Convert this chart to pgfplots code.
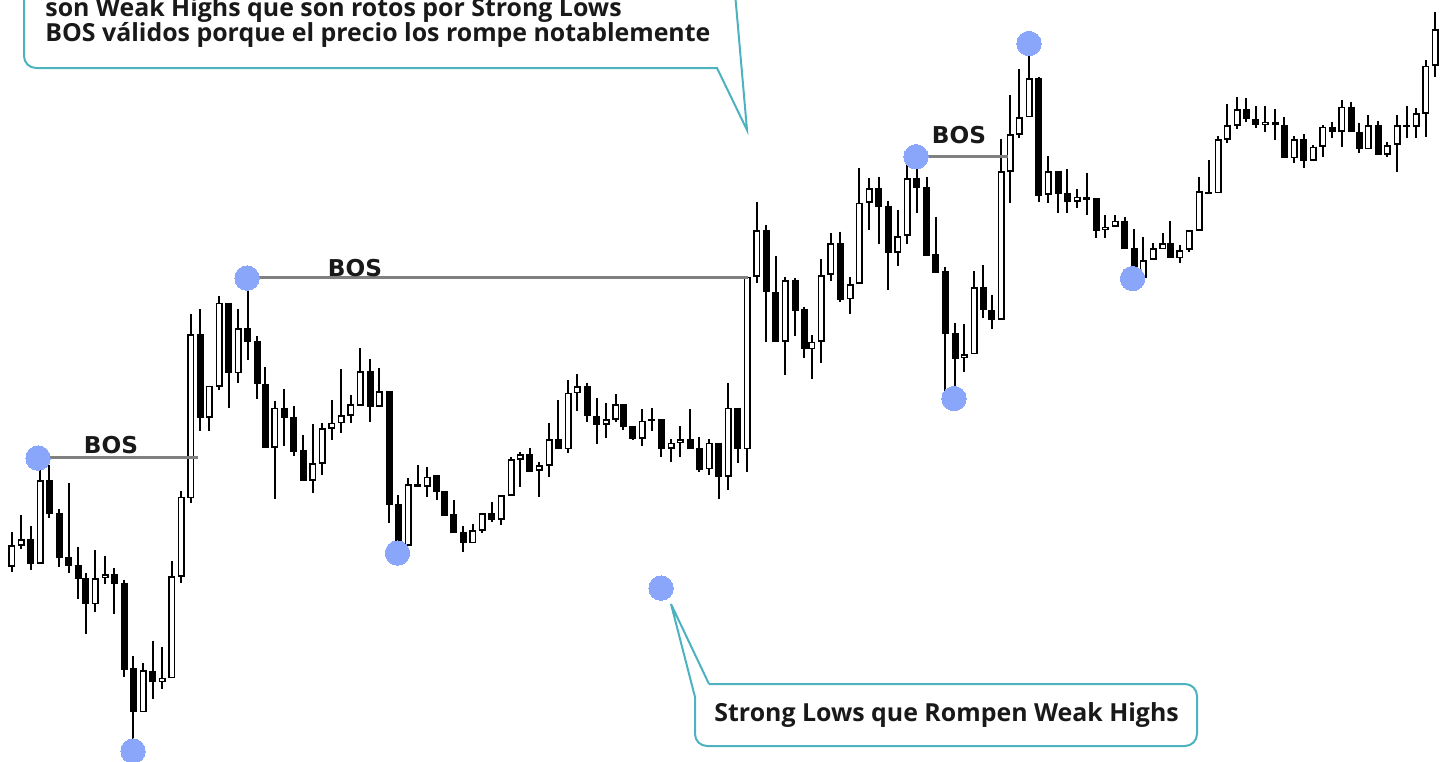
\documentclass[border=0pt]{standalone}
\usepackage{pgfplots}
\pgfplotsset{compat=1.18}
\usepackage{pgfplotstable}
\usepackage{fontspec}
\setmainfont{Open Sans}
\newfontfamily\labfont{DejaVu Sans}

\definecolor{callout}{RGB}{77,178,192}
\definecolor{dot}{RGB}{138,166,250}
\definecolor{bosgray}{RGB}{128,128,128}
\definecolor{ink}{RGB}{25,25,25}

% pixel-position candles: x, body top, body bottom, high (wick top), low (wick bottom)
\pgfplotstableread{
x bt bb h l
11.7 545 566.7 531.7 571.7
21 539.3 545.7 515 549.3
40 480 564 457 564
95.3 578.3 604.3 550 612.3
105 574.3 577.7 555.7 584.3
143.3 670 712.3 662.7 712.3
162.3 677.7 682.3 646.7 689.3
171.7 576 678.3 561 678.3
181 496.7 576.7 490.7 582.7
190.7 334 498.3 314.3 502.7
209.3 385.7 417.7 385.7 431
219 302.7 386.7 296 390
238.3 328.3 373.3 309.3 382.7
274.7 407.7 447.7 400.7 499.3
312.7 463.3 480.7 424.3 493.3
322.3 428.3 464 423.3 475
331.7 422.7 429 400 440
341.3 415 423.3 369 432.7
350.7 404 416 395 423.3
360.3 371 405.7 348.3 405.7
379.3 391 406.7 368.3 406.7
408 484 546 478.3 546
427 476.7 486.7 466.7 497.3
472.7 530 543.3 524 543.3
482.3 513.3 531 513.3 532.7
501.3 495 520 495 525
511 459 495.7 456.7 495.7
520.3 454 460 451.7 486.7
539.3 465 471 461.7 497.3
549 439.3 466 422.7 476.7
568 392.7 449.3 380 452.7
577.3 386 393.3 374.3 410.7
606 419.3 425 403.3 438.3
615.7 404.3 420 394.3 421.7
642.3 420.7 439 409.3 446
671 442.7 449 439.3 461.7
680.3 439 443.3 426 456.7
709 442.7 469.3 439 475
728.3 407.7 476.7 383.3 490
747.3 276.7 449.3 276.7 471.7
756.7 230 276.7 201.7 282.7
785.3 280 341.7 276.7 375
811.7 341.7 349.3 335 379.3
821 275 341.7 259.3 363.3
830.7 243.3 275 233.3 280.7
850 284 299.3 276.7 314
859.3 202.7 284 168.3 284
869 188.3 202.7 178.3 230
897.7 236 252.7 210 266
907.3 178.3 236 165 244
964.3 354 358.3 324 371.7
974 287.3 354.3 270.7 354.3
1001 171 320 139.3 320
1010 134 171.7 95 203.3
1019.3 117.3 135 69 138.3
1029 78.3 117.3 43.3 117.3
1048.3 171 195 156 203.3
1077 196.7 201.7 189.3 208.3
1105.3 226.7 230 215 238.3
1115 220.7 226.7 215 227.3
1143.3 260 278.3 237.3 278.3
1153 248.3 260 243.3 260
1162.7 243.3 249.3 233.3 249.3
1179.7 250 258.3 245 263.3
1189.3 230 250 230 251.7
1199 191 230.7 176.7 230.7
1218 139.3 193.3 136 193.3
1227.3 125 140 104 142.7
1237 109.3 125.7 96.7 129
1265.3 121.7 125 106 131.7
1294 139.3 158.3 136 162.7
1313.3 146.7 160.7 145 160.7
1322.7 126.7 146.7 125 156.7
1341.7 106.7 131.7 100 147.3
1368.3 125 149.3 115 149.3
1387.3 145 155 141.7 156.7
1397 125 145 115 171.7
1416 113.3 126.7 108.3 138.3
1425.7 65.7 114 60 136.7
1435.3 29 65.7 11.7 77.3
}\bull

\pgfplotstableread{
x bt bb h l
30.7 539.3 564 526 570
49.3 480 514.3 465 518.3
59.3 512.7 558.3 509.3 567.3
68.7 557.3 566 483.3 573.3
78 565 579 546.7 599.3
85.7 577.7 604.3 572.7 634.3
114.3 574 584.3 568.3 614.3
124 583.3 670 580 676.7
133.3 668.3 712.3 656 751.7
152.7 670.7 682.3 640.7 699
200 334 417.7 309.3 431
228.7 302.7 373.3 302.7 408.3
247.7 328.3 341.7 276.7 360
257 340.7 384.3 336 399.3
265.3 384 447.7 367.3 447.7
284 407.7 417.7 389.3 445.7
293.7 416.7 451.7 406 455.7
303 450 480.7 435 480.7
370 371 406.7 359.3 421.7
389 391 505 391 523.3
398.3 504 546 495 553.3
417.7 484 486.5 465 486.7
436.7 475 491.7 475 500
444.3 491 515.7 491 515.7
453.7 514.3 532.7 500 532.7
463.3 531.7 543.3 526 551.7
491.7 513.3 520 502.3 521.7
529.7 454 471.7 448.3 471.7
558.3 439.3 449.3 400 449.3
587 386 416 382.7 421.7
596.7 416 425 398.3 444
623.3 404.3 426.7 404.3 430
632.7 426 439 426 440
651.7 419 421 407.7 430.7
661.3 419 449 419 456.7
690 439 449 409.3 449
699.3 448.3 470 437.3 471.7
718.7 442.7 476.7 442.7 499.3
737.7 407.7 449.3 407.7 462.7
766 230 291.7 225 341.7
775.7 291.7 341.7 256 341.7
795 280 310.7 277.7 336
804 309.3 349.3 306.7 358.3
840.3 243.3 300 231.7 301.7
878.7 188.3 206.7 176.7 244
888 206 252.7 200.7 290
916.7 178.3 188.3 155 212.7
926.7 187.3 256 176.7 256
935.7 254 272.7 216.7 272.7
945.3 270.7 334.3 267.3 391.7
955 333.3 359.3 322.7 397.3
983.3 287.3 310 265 318.3
991.7 310 320 295 329.3
1038.7 78.3 196 76.7 201.7
1058 171 194 171 212.7
1067.3 192.7 201.7 169.3 212.7
1086.7 196.7 200 172.7 215
1096 198.3 230.7 198.3 238.3
1124.7 220.7 249.3 216.7 249.3
1134 248.3 278.3 229.3 278.3
1170.3 243.3 258.3 220.7 258.3
1208.7 191.5 193.5 160 193.3
1246.3 109.3 119.3 98.3 121.7
1255.7 119.3 125 106 128.3
1275 121.7 125 109.3 140
1284.3 125 158.3 117.3 158.3
1303.7 139.3 160.7 134 168.3
1332 126.7 131.7 121.7 138.3
1351 106.7 131.7 101.7 131.7
1359 131.7 149.3 122.7 152.7
1378 125 155 120.7 155
1406.7 125 127 106 138.3
}\bear

\pgfplotsset{
  wick/.style={draw=none, mark=none,
    error bars/.cd, y dir=plus, y explicit,
    error mark=none,
    error bar style={draw=black, solid, line width=0.85pt}},
  body/.style={draw=none, mark=none,
    error bars/.cd, y dir=plus, y explicit,
    error mark=none,
    error bar style={draw=black, solid, line width=3.5pt}},
  hollow/.style={draw=none, mark=none,
    error bars/.cd, y dir=plus, y explicit,
    error mark=none,
    error bar style={draw=white, solid, line width=1.9pt}},
}

\begin{document}
\begin{tikzpicture}
\begin{axis}[
  scale only axis, width=722.5pt, height=380.5pt,
  xmin=0, xmax=1445, ymin=0, ymax=761, y dir=reverse,
  hide axis, clip=false,
]
% swing points
\addplot[color=dot, only marks, mark=*, mark size=6.1pt,
  mark options={draw=dot, fill=dot, line width=0pt}] coordinates {
  (38,458) (133,751) (247,278) (397.5,553) (661,588)
  (954,398.5) (916,156.7) (1029,43.5) (1132.5,278.5)};

% candles
\addplot[wick] table[x=x, y=h, y error plus expr=\thisrow{l}-\thisrow{h}] {\bull};
\addplot[wick] table[x=x, y=h, y error plus expr=\thisrow{l}-\thisrow{h}] {\bear};
\addplot[body] table[x=x, y=bt, y error plus expr=\thisrow{bb}-\thisrow{bt}] {\bull};
\addplot[body] table[x=x, y=bt, y error plus expr=\thisrow{bb}-\thisrow{bt}] {\bear};
\addplot[hollow] table[x=x, y expr=\thisrow{bt}+1.6,
  y error plus expr={max(\thisrow{bb}-\thisrow{bt}-3.2,0)}] {\bull};

% BOS lines
\addplot[bosgray, line width=1.5pt] coordinates {(38,457) (198,457)};
\addplot[bosgray, line width=1.5pt] coordinates {(247,277) (748,277)};
\addplot[bosgray, line width=1.5pt] coordinates {(916,156) (1008,156)};

\node[font=\labfont\bfseries\fontsize{11.6pt}{13pt}\selectfont, text=ink, inner sep=0pt] at (axis cs:111,445.5) {BOS};
\node[font=\labfont\bfseries\fontsize{11.6pt}{13pt}\selectfont, text=ink, inner sep=0pt] at (axis cs:355,268) {BOS};
\node[font=\labfont\bfseries\fontsize{11.6pt}{13pt}\selectfont, text=ink, inner sep=0pt] at (axis cs:959,135) {BOS};

% callouts
\draw[callout, line width=1pt] (axis cs:733,-30) -- (axis cs:747,130) -- (axis cs:717,68)
  [rounded corners=6pt] -- (axis cs:24,68) -- (axis cs:24,-30);
\draw[callout, line width=1pt] (axis cs:709,684) -- (axis cs:671,604) -- (axis cs:695,697)
  [rounded corners=6pt] -- (axis cs:695,746) -- (axis cs:1197,746) -- (axis cs:1197,684) -- (axis cs:709,684);

\node[anchor=base west, inner sep=0pt, text=ink, font=\bfseries\fontsize{12.45pt}{14pt}\selectfont] at (axis cs:45,16.7) {son Weak Highs que son rotos por Strong Lows};
\node[anchor=base west, inner sep=0pt, text=ink, font=\bfseries\fontsize{12.45pt}{14pt}\selectfont] at (axis cs:45,41.7) {BOS válidos porque el precio los rompe notablemente};
\node[anchor=base west, inner sep=0pt, text=ink, font=\bfseries\fontsize{12.45pt}{14pt}\selectfont] at (axis cs:714,721.3) {Strong Lows que Rompen Weak Highs};
\end{axis}
\pgfresetboundingbox
\path[use as bounding box] (current axis.south west) rectangle (current axis.north east);
\end{tikzpicture}
\end{document}
